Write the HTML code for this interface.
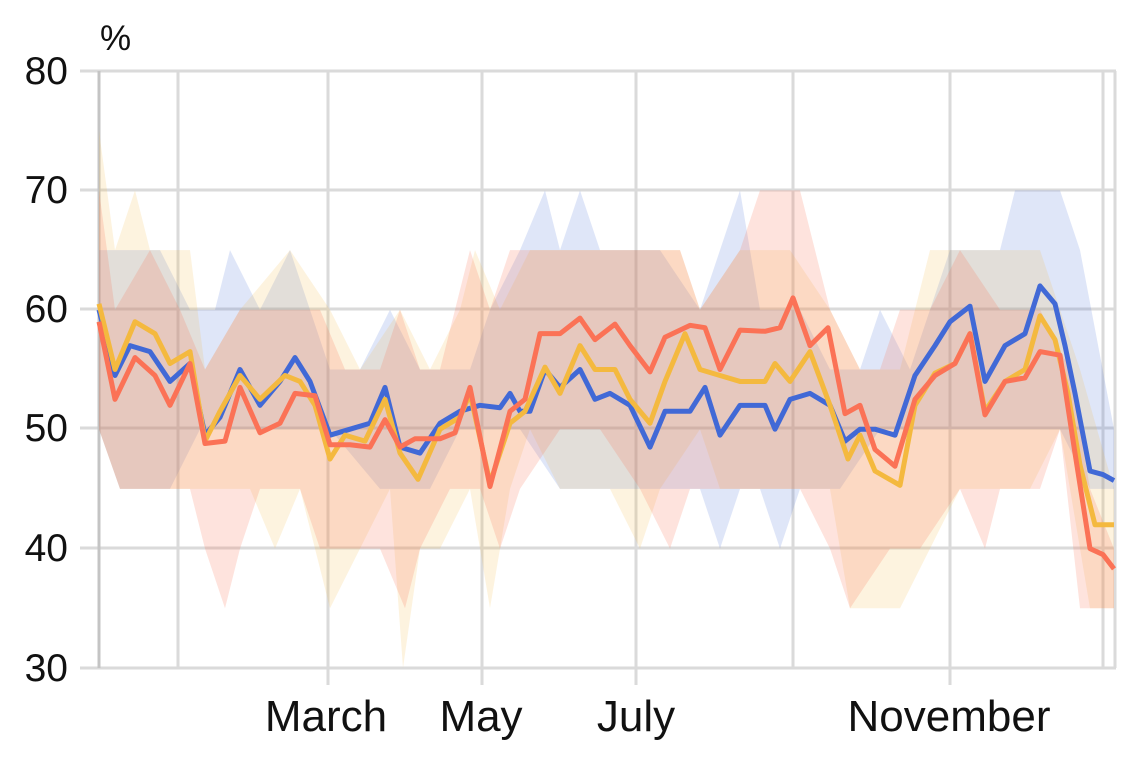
<!DOCTYPE html>
<html><head><meta charset="utf-8"><style>
body{margin:0;background:#fff;}
svg{display:block;font-family:"Liberation Sans",sans-serif;}
</style></head><body>
<svg width="1138" height="771" viewBox="0 0 1138 771">
<rect width="1138" height="771" fill="#fff"/>
<g stroke="#dadada" stroke-width="3">
<line x1="80" y1="71" x2="1116" y2="71"/><line x1="80" y1="190" x2="1116" y2="190"/><line x1="80" y1="309" x2="1116" y2="309"/><line x1="80" y1="428" x2="1116" y2="428"/><line x1="80" y1="548" x2="1116" y2="548"/><line x1="80" y1="668" x2="1116" y2="668"/>
<line x1="178" y1="71" x2="178" y2="668"/><line x1="328" y1="71" x2="328" y2="685"/><line x1="482" y1="71" x2="482" y2="685"/><line x1="636" y1="71" x2="636" y2="685"/><line x1="793" y1="71" x2="793" y2="668"/><line x1="950" y1="71" x2="950" y2="685"/><line x1="1103" y1="71" x2="1103" y2="668"/><line x1="1115" y1="71" x2="1115" y2="668"/>
</g>
<line x1="99" y1="71" x2="99" y2="668" stroke="#c4c4c4" stroke-width="3"/>
<g transform="translate(0,1026.2) scale(1,-11.94)">
<polygon fill="#4169d6" fill-opacity="0.17" points="99,65 130,65 160,65 190,60 215,60 230,65 260,60 290,65 330,55 360,55 390,60 420,55 470,55 490,60 520,65 545,70 560,65 580,70 600,65 660,65 700,60 740,70 760,60 800,60 830,55 860,55 880,60 910,55 930,60 950,65 1000,65 1015,70 1060,70 1080,65 1114,50 1114,45 1090,45 1060,50 950,50 880,50 840,45 800,45 780,40 760,45 740,45 720,40 700,45 560,45 520,50 460,50 430,45 380,45 330,50 200,50 170,45 120,45 99,50"/>
<polygon fill="#f4b93f" fill-opacity="0.17" points="99,75 115,65 135,70 150,65 190,65 205,55 240,60 290,65 330,60 360,55 400,60 430,55 460,60 475,65 500,60 530,65 600,65 640,65 680,65 700,60 740,65 790,65 830,60 860,55 900,55 930,65 1000,65 1040,65 1060,60 1080,55 1114,45 1114,35 1090,35 1060,50 1030,45 990,45 960,45 930,40 900,35 850,35 830,45 720,45 700,50 660,45 640,40 610,45 560,45 530,50 510,45 490,35 470,45 440,40 420,40 403,30 390,45 360,40 330,35 300,45 275,40 250,45 205,45 180,45 150,45 120,45 99,50"/>
<polygon fill="#fb7256" fill-opacity="0.2" points="99,70 115,60 150,65 180,60 205,55 240,60 280,60 320,60 345,55 380,55 400,60 420,55 440,55 470,65 490,60 510,65 580,65 640,65 680,65 700,60 740,65 760,70 800,70 830,60 860,55 880,55 900,60 930,60 960,65 1000,60 1040,60 1070,55 1090,45 1114,40 1114,35 1080,35 1060,50 1040,45 1000,45 985,40 960,45 920,40 890,40 850,35 830,40 800,45 780,45 760,45 720,45 690,45 670,40 640,45 600,50 560,50 520,45 500,40 480,45 450,45 420,40 405,35 380,40 350,40 320,40 300,45 260,45 240,40 225,35 205,40 190,45 150,45 120,45 99,50"/>
<polyline fill="none" stroke="#4169d6" stroke-width="5" vector-effect="non-scaling-stroke" stroke-linejoin="round" points="99,60 115,54.5 130,57 150,56.5 170,54 190,55.5 205,49.5 220,51 240,55 260,52 280,54 295,56 310,54 330,49.5 350,50 370,50.5 385,53.5 400,48.5 420,48 440,50.5 460,51.5 480,52 500,51.8 510,53 520,51.5 530,51.5 545,55 560,53.5 580,55 595,52.5 610,53 630,52 650,48.5 665,51.5 690,51.5 705,53.5 720,49.5 740,52 765,52 775,50 790,52.5 810,53 830,52 845,49 860,50 875,50 895,49.5 915,54.5 935,57 950,59 970,60.3 985,54 1005,57 1025,58 1040,62 1055,60.5 1065,57 1075,53 1090,46.5 1103,46.2 1114,45.7"/>
<polyline fill="none" stroke="#f4b93f" stroke-width="5" vector-effect="non-scaling-stroke" stroke-linejoin="round" points="99,60.5 115,55 135,59 155,58 170,55.5 190,56.5 205,49 220,51.5 240,54.5 260,52.5 285,54.5 300,54 315,52 330,47.5 345,49.5 365,49 385,52.5 400,48 418,45.8 440,50 460,51 470,53 490,45.5 510,50.5 525,51.5 545,55.2 560,53 580,57 595,55 615,55 630,52.5 650,50.5 665,54 685,58 700,55 720,54.5 740,54 765,54 775,55.5 790,54 810,56.5 830,52 848,47.5 860,49.5 875,46.5 900,45.3 915,52 935,54.7 955,55.5 970,58 985,51.5 1005,54 1025,55 1040,59.5 1055,57.5 1068,53 1080,47 1095,42 1114,42"/>
<polyline fill="none" stroke="#fb7256" stroke-width="5" vector-effect="non-scaling-stroke" stroke-linejoin="round" points="99,59 115,52.5 135,56 155,54.5 170,52 190,55.5 205,48.8 225,49 240,53.5 260,49.7 280,50.5 295,53 315,52.8 330,48.7 350,48.7 370,48.5 385,50.8 400,48.5 415,49.2 440,49.2 455,49.7 470,53.5 490,45.2 510,51.5 525,52.5 540,58 560,58 580,59.3 595,57.5 615,58.8 630,57 650,54.8 665,57.7 690,58.7 705,58.5 720,55 740,58.3 765,58.2 780,58.5 793,61 810,57 828,58.5 845,51.3 860,52 875,48.3 895,46.9 915,52.5 935,54.5 955,55.5 970,58 985,51.2 1005,54 1025,54.3 1040,56.5 1060,56.2 1075,48 1090,40 1103,39.5 1114,38.3"/>
</g>
<g font-size="39" fill="#111" text-anchor="end">
<text x="68" y="84">80</text><text x="68" y="203">70</text><text x="68" y="322">60</text><text x="68" y="441">50</text><text x="68" y="561">40</text><text x="68" y="681">30</text>
</g>
<text x="100" y="50" font-size="35" fill="#111">%</text>
<g font-size="44" fill="#111" text-anchor="middle">
<text x="326" y="731">March</text><text x="481" y="731">May</text><text x="636" y="731">July</text><text x="949" y="731">November</text>
</g>
</svg>
</body></html>
